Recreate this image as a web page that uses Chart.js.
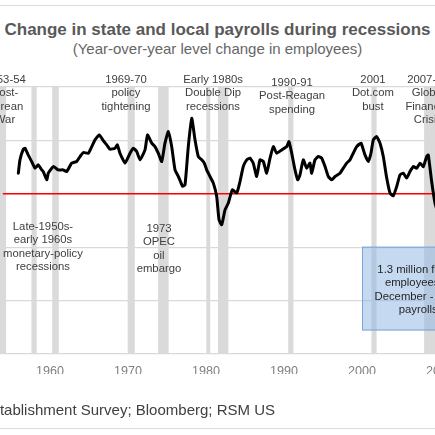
<!DOCTYPE html>
<html>
<head>
<meta charset="utf-8">
<script src="https://cdn.jsdelivr.net/npm/chart.js@4/dist/chart.umd.min.js"></script>
<style>
  html, body { margin:0; padding:0; background:#fff; overflow:hidden; width:435px; height:435px; }
  body { position:relative; font-family:'Liberation Sans', Arial, sans-serif; }
  .rule { position:absolute; left:0; width:435px; height:1px; background:#dcdcdc; }
  #title { position:absolute; left:-100px; width:635px; top:20px; line-height:20px; text-align:center;
           font-size:17px; font-weight:bold; color:#595959; white-space:nowrap; }
  #subtitle { position:absolute; left:-100px; width:635px; top:40px; line-height:18px; text-align:center;
           font-size:15px; color:#666; white-space:nowrap; }
  #footer { position:absolute; right:160px; top:401px; line-height:18px; font-size:15px; color:#404040; white-space:nowrap; }
  #c { position:absolute; left:-30px; top:0; width:600px; height:435px; display:block; }
</style>
</head>
<body>
<div class="rule" style="top:5px"></div>
<div id="title">Change in state and local payrolls during recessions</div>
<div id="subtitle">(Year-over-year level change in employees)</div>
<canvas id="c" width="600" height="435"></canvas>
<div id="footer">Source: BLS Establishment Survey; Bloomberg; RSM US</div>
<div class="rule" style="top:428px"></div>
<script>
// ---- Data (thousands of employees, year-over-year change) ----
const years = [1955.94,1956.15,1956.58,1956.8,1957.2,1957.65,1958.08,1958.5,1958.94,1959.14,1959.58,1959.78,
  1960.42,1961.06,1961.7,1962.14,1962.78,1963.42,1963.85,1964.27,1964.91,1965.35,1965.77,1966.32,1966.83,1967.27,
  1967.69,1968.33,1968.63,1968.97,1969.62,1970.26,1970.68,1971.12,1971.54,1972.18,1972.5,1973.04,1973.46,1973.88,
  1974.32,1974.74,1975.17,1975.6,1976.03,1976.45,1976.7,1977.0,1977.31,1977.73,1978.17,1978.59,1979.01,1979.45,1979.78,
  1980.09,1980.51,1980.94,1981.37,1981.67,1982.01,1982.44,1982.86,1983.37,1983.94,1984.36,1984.78,1985.22,1985.64,
  1986.06,1986.5,1986.92,1987.35,1987.78,1988.21,1988.63,1989.06,1989.71,1990.35,1990.64,1990.99,1991.41,1991.76,
  1992.05,1992.47,1992.91,1993.33,1993.55,1993.97,1994.4,1994.83,1995.26,1995.68,1996.12,1996.54,1997.18,1997.6,
  1998.04,1998.46,1998.88,1999.32,1999.87,2000.38,2000.81,2001.15,2001.45,2001.88,2002.31,2002.73,2003.17,2003.59,
  2004.01,2004.45,2004.87,2005.29,2005.73,2006.15,2006.58,2007.01,2007.44,2007.86,2008.29,2008.5,2008.93,2009.36,
  2009.8,2010.3,2010.8,2011.3,2011.8,2012.3,2012.8,2013.3,2013.8,2014.5,2015.2,2016.0,2016.8,2017.5,2018.3,2019.1,
  2019.9,2020.3,2020.6,2020.95];
const payrollChange = [193,318,418,427,364,302,240,271,224,208,131,193,
  255,224,224,208,287,302,349,386,380,442,505,551,498,458,
  418,427,458,380,287,380,427,395,318,411,551,474,442,380,
  302,474,582,442,224,162,120,70,84,442,707,505,349,318,287,
  224,162,100,-25,-243,-290,-150,-87,37,7,115,255,318,334,
  287,162,318,302,193,334,442,380,411,442,489,380,224,131,
  178,318,240,287,193,318,349,334,255,162,131,162,193,240,
  287,318,380,442,474,364,302,380,505,536,474,349,147,7,
  -19,68,178,193,147,208,255,240,287,255,349,364,115,-87,
  -180,-230,-270,-300,-220,-160,-90,-20,40,90,110,150,130,110,120,170,
  220,-1500,-1300,-1330];
const recessionStart = [1953.54,1957.62,1960.29,1969.96,1973.87,1980.04,1981.54,1990.54,2001.21,2007.96,2020.12];
const recessionEnd   = [1954.37,1958.29,1961.12,1970.87,1975.21,1980.54,1982.87,1991.21,2001.87,2009.46,2020.29];
const xTickLabels = [1960,1970,1980,1990,2000,2010,2020];
const yTicks = [-1500,-1000,-500,0,500,1000];

const topNotes = [
  {year:1954.23, lines:["1953-54","Post-","Korean","War"]},
  {year:1969.74, lines:["1969-70","policy","tightening"]},
  {year:1980.9,  lines:["Early 1980s","Double Dip","recessions"]},
  {year:1991.03, lines:["1990-91","Post-Reagan","spending"], dy:3},
  {year:2001.4,  lines:["2001","Dot.com","bust"]},
  {year:2008.46, lines:["2007-09","Global","Financial","Crisis"]}
];
const lowNotes = [
  {year:1959.1,  lines:["Late-1950s-","early 1960s","monetary-policy","recessions"], dy:0},
  {year:1973.97, lines:["1973","OPEC","oil","embargo"], dy:2}
];
const boxNote = {x0:2000.0, x1:2014.4, y0:-495, y1:-1280,
  lines:["1.3 million fewer","employees in","December - 2020","payrolls"]};

const FONT = "'Liberation Sans', Arial, sans-serif";

const bandsPlugin = {
  id:'bands',
  beforeDatasetsDraw(chart){
    const {ctx, chartArea:a, scales:{x,y}} = chart;
    ctx.save();
    ctx.fillStyle = '#dadada';
    for (let i=0;i<recessionStart.length;i++){
      const p0 = x.getPixelForValue(recessionStart[i]);
      const p1 = x.getPixelForValue(recessionEnd[i]);
      ctx.fillRect(p0, a.top, p1-p0, a.bottom-a.top);
    }
    const yz = y.getPixelForValue(0);
    ctx.strokeStyle = '#ff0000';
    ctx.lineWidth = 1.6;
    ctx.beginPath();
    ctx.moveTo(x.getPixelForValue(1953.95), yz);
    ctx.lineTo(a.right, yz);
    ctx.stroke();
    ctx.restore();
  }
};

const notesPlugin = {
  id:'notes',
  afterDatasetsDraw(chart){
    const {ctx, chartArea:a, scales:{x,y}} = chart;
    ctx.save();
    const bx0 = x.getPixelForValue(boxNote.x0), bx1 = x.getPixelForValue(boxNote.x1);
    const by0 = y.getPixelForValue(boxNote.y0), by1 = y.getPixelForValue(boxNote.y1);
    ctx.fillStyle = 'rgba(150,185,230,0.55)';
    ctx.fillRect(bx0, by0, bx1-bx0, by1-by0);
    ctx.strokeStyle = 'rgba(110,155,215,0.85)';
    ctx.lineWidth = 1;
    ctx.strokeRect(bx0+0.5, by0+0.5, bx1-bx0-1, by1-by0-1);
    ctx.textAlign = 'center';
    ctx.textBaseline = 'middle';
    ctx.font = "11.3px " + FONT;
    ctx.fillStyle = '#262626';
    const bc = (bx0+bx1)/2;
    boxNote.lines.forEach((t,i)=> ctx.fillText(t, bc, by0 + 23 + i*13.4));
    ctx.fillStyle = '#404040';
    topNotes.forEach(n=>{
      const cx = x.getPixelForValue(n.year);
      n.lines.forEach((t,i)=> ctx.fillText(t, cx, a.top - 7 + (n.dy||0) + i*13.2));
    });
    lowNotes.forEach(n=>{
      const cx = x.getPixelForValue(n.year);
      n.lines.forEach((t,i)=> ctx.fillText(t, cx, a.top + 140 + (n.dy||0) + i*13.3));
    });
    ctx.restore();
  }
};

new Chart(document.getElementById('c'), {
  type:'line',
  data:{
    datasets:[{
      data: years.map((yr,i)=>({x:yr, y:payrollChange[i]})),
      borderColor:'#000',
      borderWidth:3,
      pointRadius:0,
      tension:0.15,
      borderJoinStyle:'round',
      borderCapStyle:'round'
    }]
  },
  options:{
    responsive:false,
    animation:false,
    layout:{padding:{left:29.3, right:40.3, top:87, bottom:61}},
    plugins:{legend:{display:false}, tooltip:{enabled:false}, title:{display:false}},
    scales:{
      x:{
        type:'linear', min:1953.5, max:2021.5,
        afterBuildTicks: s => { s.ticks = xTickLabels.map(v=>({value:v})); },
        afterFit: s => { s.height = 20; },
        grid:{display:false, drawTicks:false},
        border:{display:false},
        ticks:{padding:10, color:'#808080', font:{family:FONT, size:12.6}, maxRotation:0, autoSkip:false,
               callback: v => String(v)}
      },
      y:{
        min:-1500, max:1000,
        afterBuildTicks: s => { s.ticks = yTicks.map(v=>({value:v})); },
        afterFit: s => { s.width = 0; },
        grid:{color:'#d9d9d9', lineWidth:1.2, drawTicks:false},
        border:{display:false},
        ticks:{display:false}
      }
    }
  },
  plugins:[bandsPlugin, notesPlugin]
});
</script>
</body>
</html>
